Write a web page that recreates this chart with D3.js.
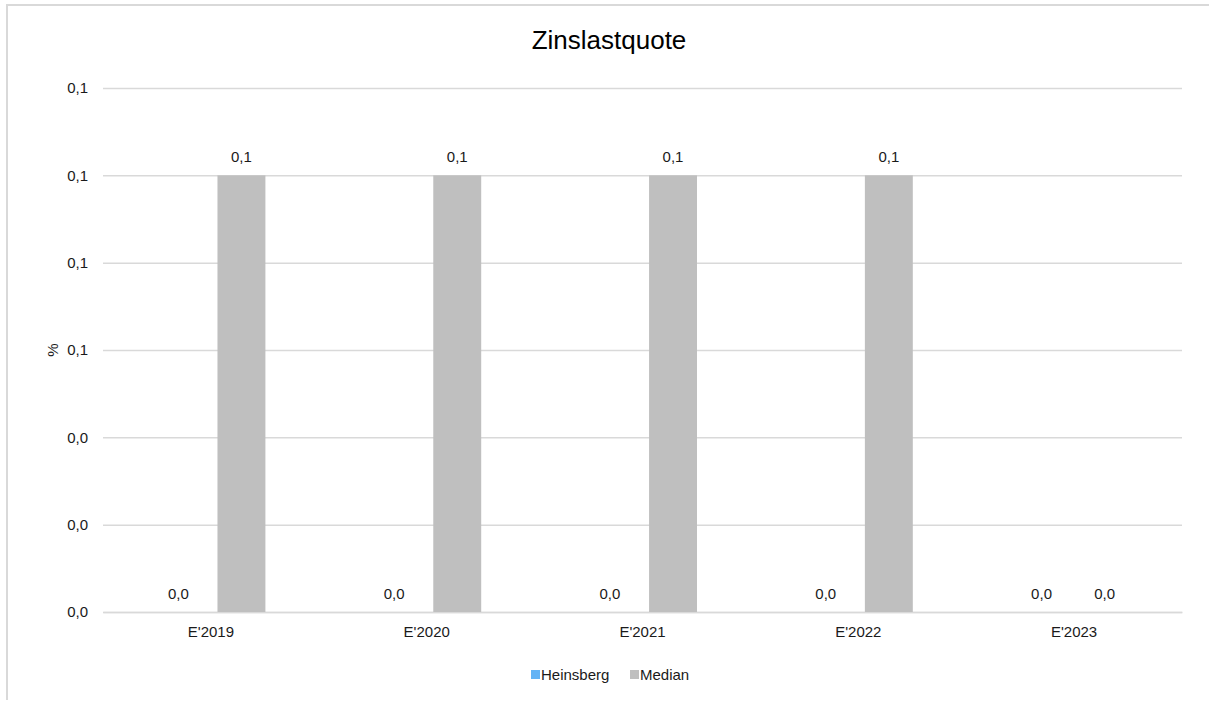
<!DOCTYPE html>
<html>
<head>
<meta charset="utf-8">
<script src="https://cdn.jsdelivr.net/npm/d3@7"></script>
<style>
  html, body { margin: 0; padding: 0; background: #fff; overflow: hidden; }
  svg { display: block; font-family: "Liberation Sans", Arial, sans-serif; }
</style>
</head>
<body>
<div id="chart"></div>
<script>
// Daten
const categories = ["E'2019", "E'2020", "E'2021", "E'2022", "E'2023"];
const seriesNames = ["Heinsberg", "Median"];
const heinsberg = [0, 0, 0, 0, 0];
const median = [0.1, 0.1, 0.1, 0.1, 0];
const yTicks = [0, 0.02, 0.04, 0.06, 0.08, 0.10, 0.12];
const colors = { Heinsberg: "#63b3f5", Median: "#bfbfbf" };

const width = 1209, height = 704;
const margin = { top: 88, right: 27, bottom: 92, left: 103 };
const chartWidth = width - margin.left - margin.right;
const chartHeight = height - margin.top - margin.bottom;
const fontSize = "15px";
const textColor = "#1a1a1a";

// deutsches Zahlenformat
const de = d3.formatLocale({ decimal: ",", thousands: ".", grouping: [3], currency: ["", " €"] });
const fmt = de.format(".1f");

const svgRoot = d3.select("#chart").append("svg")
    .attr("width", width)
    .attr("height", height);

// Rahmen des Diagrammbereichs: nur links und oben sichtbar
svgRoot.append("path")
    .attr("d", "M7,700 V5 H1209")
    .attr("fill", "none")
    .attr("stroke", "#d9d9d9")
    .attr("stroke-width", 2);

// Titel
svgRoot.append("text")
    .attr("x", 609).attr("y", 49)
    .attr("text-anchor", "middle")
    .style("font-size", "26px")
    .style("fill", "#000")
    .text("Zinslastquote");

const svg = svgRoot.append("g")
    .attr("transform", `translate(${margin.left},${margin.top})`);

// Skalen
const x0 = d3.scaleBand()
    .domain(categories)
    .range([0, chartWidth])
    .padding(0);

const x1 = d3.scaleBand()
    .domain(seriesNames)
    .range([x0.bandwidth() / 2 - 56.5, x0.bandwidth() / 2 + 54.5])
    .paddingInner(0.24)
    .paddingOuter(0);

const y = d3.scaleLinear()
    .domain([0, 0.12])
    .range([chartHeight, 0]);

// Gitterlinien
svg.append("g")
    .call(d3.axisLeft(y).tickValues(yTicks).tickSize(-chartWidth).tickFormat(""))
    .call(g => g.select(".domain").remove())
    .call(g => g.selectAll("line").attr("stroke", "#d9d9d9").attr("stroke-width", 1.5));

// Y-Achse Beschriftungen
svg.append("g")
    .call(d3.axisLeft(y).tickValues(yTicks).tickSize(0).tickPadding(15).tickFormat(fmt))
    .call(g => g.select(".domain").remove())
    .selectAll("text")
    .style("font-size", fontSize)
    .style("font-family", "Liberation Sans, Arial, sans-serif")
    .style("fill", textColor);

// X-Achse
svg.append("g")
    .attr("transform", `translate(0,${chartHeight})`)
    .call(d3.axisBottom(x0).tickSize(0).tickPadding(14))
    .call(g => g.select(".domain").attr("stroke", "#d9d9d9").attr("stroke-width", 1.5))
    .selectAll("text")
    .style("font-size", fontSize)
    .style("font-family", "Liberation Sans, Arial, sans-serif")
    .style("fill", textColor);

// Y-Achsentitel
svgRoot.append("text")
    .attr("transform", "rotate(-90)")
    .attr("x", -350)
    .attr("y", 58)
    .attr("text-anchor", "middle")
    .style("font-size", fontSize)
    .style("fill", textColor)
    .text("%");

// Balken
const rows = categories.map((c, i) => ({
    category: c,
    values: [
        { key: "Heinsberg", value: heinsberg[i] },
        { key: "Median", value: median[i] }
    ]
}));

const groups = svg.selectAll("g.group")
    .data(rows)
    .enter()
    .append("g")
    .attr("class", "group")
    .attr("transform", d => `translate(${x0(d.category)},0)`);

groups.selectAll("rect")
    .data(d => d.values)
    .enter()
    .append("rect")
    .attr("x", d => x1(d.key))
    .attr("y", d => y(d.value))
    .attr("width", x1.bandwidth())
    .attr("height", d => chartHeight - y(d.value))
    .attr("fill", d => colors[d.key]);

// Datenbeschriftungen
groups.selectAll("text.label")
    .data(d => d.values)
    .enter()
    .append("text")
    .attr("class", "label")
    .attr("x", d => x1(d.key) + x1.bandwidth() / 2)
    .attr("y", d => y(d.value) - 13)
    .attr("text-anchor", "middle")
    .style("font-size", fontSize)
    .style("fill", textColor)
    .text(d => fmt(d.value));

// Legende
const legend = svgRoot.append("g")
    .attr("transform", "translate(531,670)");

const legendX = [0, 99];
seriesNames.forEach((name, i) => {
    const item = legend.append("g").attr("transform", `translate(${legendX[i]},0)`);
    item.append("rect")
        .attr("width", 9).attr("height", 9)
        .attr("fill", colors[name]);
    item.append("text")
        .attr("x", 10).attr("y", 9.5)
        .style("font-size", fontSize)
        .style("fill", textColor)
        .text(name);
});
</script>
</body>
</html>
